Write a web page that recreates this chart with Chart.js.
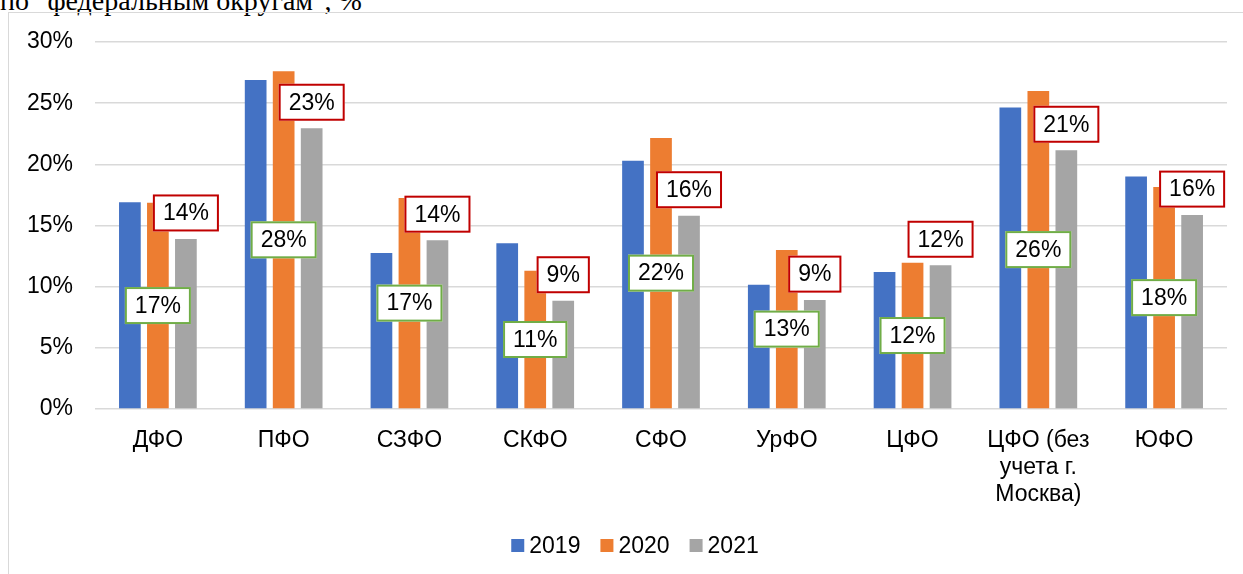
<!DOCTYPE html>
<html>
<head>
<meta charset="utf-8">
<script src="https://cdn.jsdelivr.net/npm/chart.js@4"></script>
<style>
  html, body { margin: 0; padding: 0; background: #fff; overflow: hidden; }
  #title {
    position: absolute; left: 0; top: -13px; white-space: nowrap;
    font: 28px/28px "Liberation Serif", "Times New Roman", serif; color: #000;
  }
  #frame {
    position: absolute; left: 8px; top: 12px; width: 1260px; height: 600px;
    border: 1.5px solid #d9d9d9; box-sizing: border-box;
  }
  #wrap { position: absolute; left: 0; top: 0; width: 1243px; height: 574px; }
</style>
</head>
<body>
<div id="title">по "федеральным округам", %</div>
<div id="frame"></div>
<div id="wrap"><canvas id="chart"></canvas></div>
<script>
// Data
const categories = ['ДФО', 'ПФО', 'СЗФО', 'СКФО', 'СФО', 'УрФО', 'ЦФО', ['ЦФО (без', 'учета г.', 'Москва)'], 'ЮФО'];
const seriesNames = ['2019', '2020', '2021'];
const values2019 = [16.9, 26.9, 12.75, 13.55, 20.3, 10.15, 11.2, 24.65, 19.0];
const values2020 = [16.85, 27.6, 17.25, 11.3, 22.15, 13.0, 11.95, 26.0, 18.15];
const values2021 = [13.9, 22.95, 13.8, 8.85, 15.8, 8.9, 11.75, 21.15, 15.85];
const yTicks = [0, 5, 10, 15, 20, 25, 30];

const colors = ['#4472C4', '#ED7D31', '#A5A5A5'];
const FONT = '"Liberation Sans", Arial, sans-serif';

// boxed value labels: 2020 in the middle of its bar (green), 2021 above its bar (red)
const boxLabels = {
  id: 'boxLabels',
  afterDatasetsDraw(chart) {
    const ctx = chart.ctx;
    ctx.save();
    ctx.font = '23px ' + FONT;
    ctx.textAlign = 'center';
    ctx.textBaseline = 'middle';
    const drawBox = (text, cx, cy, stroke) => {
      const w = ctx.measureText(text).width + 20;
      const h = 37;
      ctx.fillStyle = '#fff';
      ctx.fillRect(cx - w / 2, cy - h / 2, w, h);
      ctx.lineWidth = 2;
      ctx.strokeStyle = stroke;
      ctx.strokeRect(cx - w / 2 + 1, cy - h / 2 + 1, w - 2, h - 2);
      ctx.fillStyle = '#000';
      ctx.fillText(text, cx, cy + 1);
    };
    const meta20 = chart.getDatasetMeta(1);
    meta20.data.forEach((bar, i) => {
      drawBox(Math.round(values2020[i]) + '%', bar.x, (bar.y + bar.base) / 2, '#70AD47');
    });
    const meta21 = chart.getDatasetMeta(2);
    meta21.data.forEach((bar, i) => {
      drawBox(Math.round(values2021[i]) + '%', bar.x, bar.y - 26, '#C00000');
    });
    ctx.restore();
  }
};

// legend drawn at the bottom, Excel style (small square + text)
const bottomLegend = {
  id: 'bottomLegend',
  afterDraw(chart) {
    const ctx = chart.ctx;
    ctx.save();
    ctx.font = '23px ' + FONT;
    ctx.textBaseline = 'middle';
    ctx.textAlign = 'left';
    const box = 13, gapText = 5, gapItem = 20;
    const items = chart.data.datasets.map(ds => ({ text: ds.label, color: ds.backgroundColor, w: box + gapText + ctx.measureText(ds.label).width }));
    const total = items.reduce((s, it) => s + it.w, 0) + gapItem * (items.length - 1);
    let x = 635 - total / 2;
    const cy = 545.5;
    items.forEach(it => {
      ctx.fillStyle = it.color;
      ctx.fillRect(x, cy - box / 2, box, box);
      ctx.fillStyle = '#000';
      ctx.fillText(it.text, x + box + gapText, cy + 1);
      x += it.w + gapItem;
    });
    ctx.restore();
  }
};

const ctx = document.getElementById('chart').getContext('2d');
const chart = new Chart(ctx, {
  type: 'bar',
  data: {
    labels: categories,
    datasets: [
      { label: seriesNames[0], data: values2019, backgroundColor: colors[0] },
      { label: seriesNames[1], data: values2020, backgroundColor: colors[1] },
      { label: seriesNames[2], data: values2021, backgroundColor: colors[2] }
    ]
  },
  options: {
    responsive: true,
    maintainAspectRatio: false,
    animation: false,
    categoryPercentage: 0.668,
    barPercentage: 0.775,
    layout: { padding: { left: 0, right: 16, top: 42, bottom: 45 } },
    plugins: {
      legend: { display: false },
      tooltip: { enabled: false }
    },
    scales: {
      x: {
        grid: { display: false, drawTicks: false },
        border: { display: false },
        ticks: {
          color: '#000',
          padding: 18,
          maxRotation: 0,
          autoSkip: false,
          font: { family: FONT, size: 23, lineHeight: 1.17 }
        },
        afterFit: (scale) => { scale.height = 120; }
      },
      y: {
        min: 0,
        max: 30,
        afterBuildTicks: (scale) => { scale.ticks = yTicks.map(v => ({ value: v })); },
        grid: { color: '#d9d9d9', lineWidth: 1.5, drawTicks: false },
        border: { display: false },
        ticks: {
          color: '#000',
          padding: 22,
          font: { family: FONT, size: 23 },
          callback: (v) => v + '%'
        },
        afterFit: (scale) => { scale.width = 95; }
      }
    }
  },
  plugins: [boxLabels, bottomLegend]
});
</script>
</body>
</html>
